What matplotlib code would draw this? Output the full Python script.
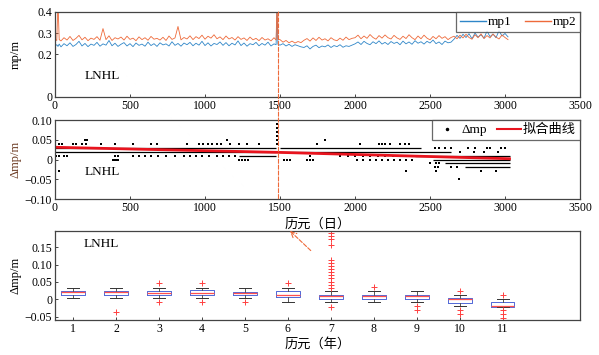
import numpy as np
import matplotlib
matplotlib.use("Agg")
import matplotlib.pyplot as plt
from matplotlib.patches import ConnectionPatch
from matplotlib.lines import Line2D

plt.rcParams["font.family"] = ["Liberation Serif", "Noto Sans CJK SC", "DejaVu Sans"]

# ---- top panel: mp1 / mp2, read roughly every 20 days (extra points at the jumps) ----
days = np.r_[0, 12, 20, 28, np.arange(40, 1480, 20), 1474, 1480, 1486,
             np.arange(1500, 3040, 20)]
mp1 = [0.240, 0.246, 0.238, 0.249,
       0.236, 0.251, 0.241, 0.255, 0.238, 0.247, 0.262, 0.240, 0.252, 0.237,
       0.249, 0.243, 0.257, 0.239, 0.250, 0.244, 0.266, 0.241, 0.253, 0.238,
       0.248, 0.256, 0.240, 0.251, 0.237, 0.254, 0.243, 0.249, 0.239, 0.258,
       0.242, 0.251, 0.238, 0.255, 0.245, 0.250, 0.240, 0.260, 0.243, 0.252,
       0.239, 0.254, 0.246, 0.257, 0.241, 0.253, 0.244, 0.262, 0.242, 0.255,
       0.240, 0.252, 0.247, 0.259, 0.243, 0.256, 0.241, 0.253, 0.245, 0.264,
       0.242, 0.254, 0.239, 0.251, 0.246, 0.257, 0.241, 0.252, 0.244, 0.258,
       0.240, 0.250,
       0.246, 0.42, 0.248,
       0.244, 0.251, 0.240, 0.248, 0.238, 0.246, 0.241, 0.236,
       0.233, 0.241, 0.226, 0.238, 0.244, 0.232, 0.240, 0.236, 0.245, 0.233,
       0.242, 0.237, 0.246, 0.234, 0.241, 0.238, 0.244,
       0.250, 0.259, 0.247, 0.262, 0.252, 0.246, 0.260, 0.251, 0.264, 0.249,
       0.257, 0.247, 0.261, 0.252, 0.258, 0.246, 0.263, 0.250, 0.259, 0.248,
       0.265, 0.253, 0.260, 0.249, 0.262, 0.254, 0.268, 0.251, 0.259, 0.247,
       0.263, 0.255, 0.258,
       0.272, 0.290, 0.276, 0.295, 0.280, 0.298, 0.274, 0.301, 0.282, 0.293,
       0.277, 0.310, 0.284, 0.296, 0.279, 0.312, 0.287, 0.299, 0.283]
mp2 = [0.272, 0.266, 0.45, 0.270,
       0.264, 0.279, 0.268, 0.285, 0.266, 0.276, 0.290, 0.269, 0.281, 0.265,
       0.277, 0.271, 0.284, 0.267, 0.322, 0.270, 0.288, 0.266, 0.279, 0.273,
       0.282, 0.268, 0.286, 0.271, 0.277, 0.265, 0.283, 0.270, 0.279, 0.267,
       0.285, 0.272, 0.276, 0.268, 0.281, 0.266, 0.287, 0.271, 0.278, 0.332,
       0.269, 0.280, 0.273, 0.288, 0.270, 0.284, 0.275, 0.291, 0.272, 0.286,
       0.277, 0.293, 0.274, 0.283, 0.270, 0.287, 0.273, 0.280, 0.268, 0.284,
       0.271, 0.278, 0.266, 0.282, 0.269, 0.276, 0.265, 0.280, 0.268, 0.274,
       0.264, 0.279,
       0.268, 0.45, 0.272,
       0.270, 0.258, 0.266, 0.255, 0.263, 0.254, 0.261, 0.256,
       0.267, 0.275, 0.263, 0.278, 0.266, 0.281, 0.268, 0.274, 0.264, 0.279,
       0.269, 0.265, 0.277, 0.267, 0.282, 0.270, 0.276,
       0.279, 0.291, 0.274, 0.287, 0.276, 0.294, 0.280, 0.272, 0.289, 0.277,
       0.292, 0.279, 0.273, 0.290, 0.278, 0.271, 0.286, 0.275, 0.293, 0.279,
       0.270, 0.287, 0.274, 0.291, 0.277, 0.269, 0.285, 0.274, 0.289, 0.276,
       0.284, 0.270, 0.280,
       0.286, 0.274, 0.291, 0.278, 0.295, 0.280, 0.272, 0.293, 0.279, 0.297,
       0.275, 0.289, 0.278, 0.296, 0.282, 0.273, 0.292, 0.280, 0.270]

# ---- middle panel: delta mp (0.01 steps) ----
# dense runs of daily points: level, first day, last day
run_lvl = [0.03, 0.02, 0.01, 0.03, 0.02, 0.01, 0.0, -0.01, -0.02]
run_start = [0, 0, 1230, 1500, 1500, 2400, 2520, 2600, 2730]
run_end = [1475, 1475, 1475, 2440, 2640, 3030, 3030, 3030, 3030]
# scattered points: level and days
dot_lvl = [0.10, 0.09, 0.08, 0.07, 0.06, 0.05, 0.04, 0.03, 0.02, 0.01, 0.0,
           -0.01, -0.02, -0.03, -0.05]
dot_days = [[1480], [1480], [1482], [1480], [1482],
            [200, 215, 1150, 1480, 1800],
            [30, 50, 120, 140, 180, 210, 310, 400, 520, 640, 680, 880, 960, 990,
             1020, 1050, 1080, 1110, 1170, 1230, 1280, 1360, 1480, 1750, 2030,
             2160, 2180, 2200, 2230, 2300, 2330, 2360],
            [2530, 2560, 2600, 2640, 2750, 2800, 2880, 2900, 2970, 3000],
            [2700, 2790, 2860, 2950],
            [5, 25, 60, 80, 400, 420, 520, 560, 600, 640, 690, 740, 800, 860,
             900, 940, 980, 1030, 1080, 1120, 1160, 1200, 1700, 1900, 1950, 2000,
             2050, 2100, 2150, 2200, 2250, 2300, 2350],
            [390, 400, 410, 420, 1230, 1250, 1270, 1290, 1530, 1550, 1570, 1680,
             1700, 1720, 2010, 2050, 2100, 2140, 2180, 2220, 2260, 2300, 2340,
             2380],
            [2500, 2540, 2560],
            [2530, 2550, 2640, 2680],
            [28, 2340, 2540, 2840, 2940],
            [2690]]
fit_days = [0, 1500, 3030]
fit_vals = [0.031, 0.018, 0.002]

# ---- bottom panel: yearly box statistics ----
years = [1, 2, 3, 4, 5, 6, 7, 8, 9, 10, 11]
q_med = [0.020, 0.020, 0.018, 0.017, 0.017, 0.0135, 0.008, 0.010, 0.009, 0.001, -0.021]
q_lo = [0.012, 0.012, 0.011, 0.011, 0.011, 0.007, 0.001, 0.002, 0.001, -0.010, -0.022]
q_hi = [0.025, 0.025, 0.025, 0.026, 0.022, 0.024, 0.0135, 0.0135, 0.0125, 0.003, -0.009]
w_lo = [0.003, 0.003, 0.003, 0.003, 0.003, -0.009, -0.009, -0.009, -0.009, -0.021, -0.022]
w_hi = [0.033, 0.033, 0.033, 0.033, 0.033, 0.033, 0.024, 0.024, 0.024, 0.011, 0.002]
outliers = [[], [-0.038], [0.047, -0.009], [0.047, -0.009], [-0.009], [0.046],
            [-0.022, 0.033, 0.042, 0.051, 0.060, 0.069, 0.078, 0.087, 0.096,
             0.105, 0.114, 0.156, 0.175, 0.183, 0.190],
            [0.034], [-0.021, -0.031], [0.024, -0.032, -0.043],
            [0.013, -0.032, -0.043, -0.054, -0.065]]

blue = "#2f86c8"
orange = "#ee6a3a"
edge = "#444444"
fs = 8.5

fig = plt.figure(figsize=(5.99, 3.55), dpi=100)
ax1 = fig.add_axes([0.0918, 0.7268, 0.8765, 0.2394])
ax2 = fig.add_axes([0.0918, 0.4394, 0.8765, 0.2225])
ax3 = fig.add_axes([0.0918, 0.0986, 0.8765, 0.2507])

for ax in (ax1, ax2, ax3):
    for s in ax.spines.values():
        s.set_color(edge)
        s.set_linewidth(0.9)
    ax.tick_params(direction="in", length=2.5, width=0.7, color=edge,
                   labelsize=fs, pad=2)

# top
ax1.plot(days, mp1, color=blue, lw=0.6, label="mp1")
ax1.plot(days, mp2, color=orange, lw=0.6, label="mp2")
ax1.set_xlim(0, 3500)
ax1.set_ylim(0, 0.4)
ax1.set_xticks(range(0, 3501, 500))
ax1.set_yticks([0, 0.2, 0.3, 0.4])
ax1.set_yticklabels(["0", "0.2", "0.3", "0.4"])
ax1.set_ylabel("mp/m", fontsize=fs + 0.5)
ax1.yaxis.set_label_coords(-0.063, 0.5)
ax1.text(200, 0.085, "LNHL", fontsize=fs + 1)
leg = ax1.legend(loc="upper right", ncol=2, fontsize=fs + 1, handlelength=2.0,
                 fancybox=False, edgecolor=edge, borderaxespad=0,
                 columnspacing=1.0, handletextpad=0.1, borderpad=0.3)
leg.get_frame().set_linewidth(0.9)
for ln in leg.get_lines():
    ln.set_linewidth(1.0)

# middle
for lv, a, b in zip(run_lvl, run_start, run_end):
    ax2.hlines(lv, a, b, color="k", lw=0.9)
for lv, dd in zip(dot_lvl, dot_days):
    ax2.scatter(dd, [lv] * len(dd), s=1.0, color="k", marker="s", lw=0)
ax2.plot(fit_days, fit_vals, color="#e8141e", lw=2.0)
ax2.set_xlim(0, 3500)
ax2.set_ylim(-0.10, 0.10)
ax2.set_xticks(range(0, 3501, 500))
ax2.set_yticks([-0.10, -0.05, 0, 0.05, 0.10])
ax2.set_yticklabels(["\u22120.10", "\u22120.05", "0", "0.05", "0.10"])
ax2.set_ylabel("Δmp/m", fontsize=fs + 0.5, color="#6b3a22")
ax2.yaxis.set_label_coords(-0.063, 0.5)
ax2.set_xlabel("历元（日）", fontsize=fs + 1, labelpad=3)
ax2.text(200, -0.04, "LNHL", fontsize=fs + 1)
h_dot = Line2D([], [], color="k", marker=".", ls="none", markersize=3)
h_fit = Line2D([], [], color="#e8141e", lw=1.5)
leg2 = ax2.legend([h_dot, h_fit], ["Δmp", "拟合曲线"], loc="upper right", ncol=2,
                  fontsize=fs + 1, handlelength=1.8, fancybox=False,
                  edgecolor=edge, borderaxespad=0, columnspacing=0.8,
                  handletextpad=0.15, borderpad=0.3)
leg2.get_frame().set_linewidth(0.9)

# bottom
stats = []
for i in range(len(years)):
    stats.append(dict(med=q_med[i], q1=q_lo[i], q3=q_hi[i], whislo=w_lo[i],
                      whishi=w_hi[i], fliers=outliers[i]))
ax3.bxp(stats, positions=years, widths=0.55, showfliers=True,
        boxprops=dict(color="#5068d8", lw=0.7),
        medianprops=dict(color="#ff4f4f", lw=0.9),
        whiskerprops=dict(color="#555555", lw=0.7),
        capprops=dict(color="#333333", lw=0.7),
        flierprops=dict(marker="+", markeredgecolor="#ff4040", markersize=4,
                        markeredgewidth=0.7))
ax3.set_xlim(0.58, 12.8)
ax3.set_ylim(-0.06, 0.197)
ax3.set_xticks(years)
ax3.set_xticklabels([str(y) for y in years])
ax3.set_yticks([-0.05, 0, 0.05, 0.10, 0.15])
ax3.set_yticklabels(["\u22120.05", "0", "0.05", "0.10", "0.15"])
ax3.set_ylabel("Δmp/m", fontsize=fs + 0.5)
ax3.yaxis.set_label_coords(-0.063, 0.5)
ax3.set_xlabel("历元（年）", fontsize=fs + 1, labelpad=2)
ax3.text(1.25, 0.15, "LNHL", fontsize=fs + 1)

# marker of the day-1490 jump and the link to year 7 outliers
con = ConnectionPatch(xyA=(1490, 0.4), coordsA=ax1.transData,
                      xyB=(1490, -0.10), coordsB=ax2.transData,
                      color=orange, ls="--", lw=0.8)
fig.add_artist(con)
ax3.annotate("", xy=(1553, -0.176), xycoords=ax2.transData,
             xytext=(6.58, 0.135), textcoords=ax3.transData,
             annotation_clip=False,
             arrowprops=dict(arrowstyle="->", ls="--", color=orange, lw=0.8))

fig.savefig("out.png", dpi=100)
